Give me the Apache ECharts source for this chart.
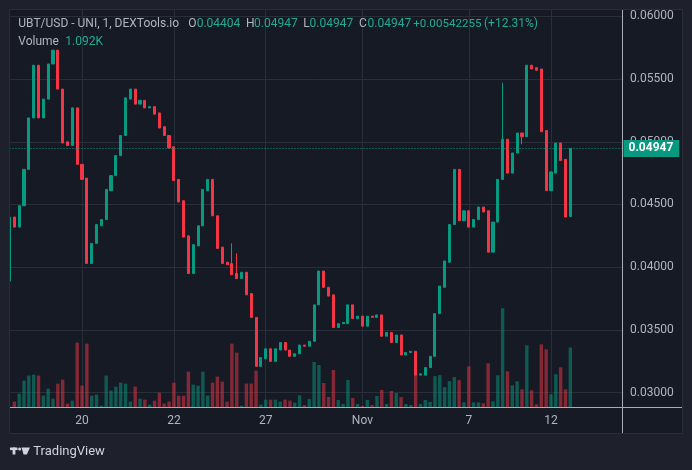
<!DOCTYPE html>
<html>
<head>
<meta charset="utf-8">
<script src="https://cdn.jsdelivr.net/npm/echarts@6/dist/echarts.min.js"></script>
<style>
html,body{margin:0;padding:0;background:#1e212b;}
#chart{width:692px;height:470px;}
</style>
</head>
<body>
<div id="chart"></div>
<script>
// ---- data ----
const opens = [
0.0389,0.0440,0.0432,0.0449,0.0478,0.0519,0.0561,0.0519,0.0534,0.0562,
0.0573,0.0542,0.0500,0.0497,0.0527,0.0482,0.0471,0.0403,0.0419,0.0433,
0.0438,0.0461,0.0473,0.0489,0.0505,0.0534,0.0542,0.0530,0.0533,0.0527,
0.0528,0.0523,0.0512,0.0505,0.0496,0.0470,0.0453,0.0425,0.0395,0.0417,
0.0433,0.0461,0.0470,0.0441,0.0416,0.0404,0.0403,0.0395,0.0391,0.0396,
0.0379,0.0360,0.0321,0.0327,0.0335,0.0325,0.0334,0.0340,0.0334,0.0329,
0.0331,0.0338,0.0337,0.0341,0.0370,0.0397,0.0384,0.0378,0.0352,0.0355,
0.0355,0.0370,0.0359,0.0361,0.0353,0.0361,0.0360,0.0362,0.0345,0.0348,
0.0340,0.0346,0.0330,0.0332,0.0333,0.0314,0.0314,0.0320,0.0329,0.0363,
0.0384,0.0404,0.0434,0.0478,0.0437,0.0445,0.0432,0.0438,0.0448,0.0445,
0.0412,0.0436,0.0470,0.0502,0.0475,0.0491,0.0507,0.0504,0.0561,0.0559,
0.0558,0.0509,0.0461,0.0475,0.0499,0.0486,0.04404];
const closes = [
0.0440,0.0432,0.0449,0.0478,0.0519,0.0561,0.0519,0.0534,0.0562,0.0573,
0.0542,0.0499,0.0497,0.0527,0.0482,0.0470,0.0403,0.0419,0.0434,0.0438,
0.0462,0.0473,0.0489,0.0505,0.0535,0.0542,0.0530,0.0533,0.0527,0.0528,
0.0522,0.0511,0.0505,0.0495,0.0469,0.0452,0.0424,0.0395,0.0418,0.0433,
0.0462,0.0470,0.0441,0.0415,0.0403,0.0402,0.0394,0.0391,0.0396,0.0378,
0.0360,0.0321,0.0328,0.0335,0.0325,0.0335,0.0340,0.0334,0.0329,0.0331,
0.0338,0.0337,0.0341,0.0370,0.0397,0.0384,0.0377,0.0352,0.0355,0.0356,
0.0370,0.0359,0.0361,0.0353,0.0361,0.0360,0.0362,0.0345,0.0348,0.0340,
0.0346,0.0330,0.0332,0.0333,0.0314,0.0315,0.0320,0.0329,0.0363,0.0385,
0.0405,0.0434,0.0478,0.0437,0.0445,0.0432,0.0438,0.0448,0.0444,0.0412,
0.0436,0.0470,0.0502,0.0475,0.0491,0.0507,0.0504,0.0561,0.0558,0.0557,
0.0508,0.0461,0.0476,0.0499,0.0485,0.0440,0.04947];
const lows = [
0.0389,0.0432,0.0432,0.0449,0.0478,0.0519,0.0519,0.0519,0.0534,0.0562,
0.0542,0.0499,0.0497,0.0497,0.0482,0.0470,0.0403,0.0403,0.0419,0.0433,
0.0438,0.0461,0.0473,0.0489,0.0505,0.0534,0.0530,0.0530,0.0527,0.0527,
0.0522,0.0511,0.0505,0.0495,0.0469,0.0452,0.0424,0.0395,0.0395,0.0417,
0.0433,0.0461,0.0441,0.0415,0.0403,0.0402,0.0394,0.0391,0.0391,0.0378,
0.0360,0.0321,0.0321,0.0327,0.0325,0.0325,0.0334,0.0334,0.0329,0.0329,
0.0331,0.0337,0.0337,0.0341,0.0370,0.0384,0.0377,0.0352,0.0352,0.0355,
0.0355,0.0359,0.0359,0.0353,0.0353,0.0360,0.0360,0.0345,0.0345,0.0340,
0.0340,0.0330,0.0330,0.0332,0.0314,0.0314,0.0314,0.0320,0.0329,0.0363,
0.0384,0.0404,0.0434,0.0437,0.0437,0.0432,0.0432,0.0438,0.0444,0.0412,
0.0412,0.0436,0.0470,0.0475,0.0475,0.0491,0.0498,0.0504,0.0558,0.0557,
0.0508,0.0461,0.0461,0.0475,0.0485,0.0440,0.04404];
const highs = [
0.0440,0.0440,0.0449,0.0478,0.0519,0.0561,0.0561,0.0534,0.0562,0.0573,
0.0573,0.0542,0.0500,0.0527,0.0527,0.0482,0.0471,0.0419,0.0434,0.0438,
0.0462,0.0473,0.0489,0.0505,0.0535,0.0542,0.0542,0.0533,0.0533,0.0528,
0.0528,0.0523,0.0512,0.0505,0.0496,0.0470,0.0453,0.0425,0.0418,0.0433,
0.0462,0.0470,0.0470,0.0441,0.0416,0.0404,0.0419,0.0411,0.0396,0.0396,
0.0379,0.0360,0.0328,0.0335,0.0335,0.0335,0.0340,0.0340,0.0334,0.0331,
0.0338,0.0338,0.0341,0.0370,0.0397,0.0397,0.0384,0.0378,0.0355,0.0356,
0.0370,0.0370,0.0361,0.0361,0.0361,0.0361,0.0362,0.0362,0.0348,0.0348,
0.0346,0.0346,0.0332,0.0333,0.0333,0.0315,0.0320,0.0329,0.0363,0.0385,
0.0405,0.0434,0.0478,0.0478,0.0445,0.0445,0.0438,0.0448,0.0448,0.0445,
0.0436,0.0470,0.0547,0.0502,0.0491,0.0507,0.0507,0.0561,0.0561,0.0559,
0.0558,0.0509,0.0476,0.0499,0.0499,0.0486,0.04947];
const volumes = [
0,104,250,488,580,598,580,213,341,159,
433,506,67,122,1183,396,1165,213,232,30,
580,305,378,451,433,104,378,159,140,49,
122,268,67,104,451,213,213,652,415,396,
652,213,451,561,470,104,1165,1000,30,433,
433,671,49,140,140,140,104,140,122,85,
220,40,150,829,774,445,189,683,134,61,
500,171,61,24,134,43,207,317,61,299,
262,186,61,43,607,61,134,98,570,588,
369,479,552,497,91,750,91,91,73,805,
110,585,1811,658,402,476,329,1134,311,55,
1152,1061,238,604,732,329,1092];
// time-axis tick labels (category index -> text)
const tickIndex = [15, 34, 53, 73, 95, 112];
const tickText  = ['20', '22', '27', 'Nov', '7', '12'];
// price-axis tick labels
const priceTicks = [0.030, 0.035, 0.040, 0.045, 0.050, 0.055, 0.060];
const lastPriceText = '0.04947';
const lastVolumeText = '1.092K';

// ---- build ----
const NCAT = 128;
const cats = [];
for (let i = 0; i < NCAT; i++) cats.push(String(i));
const UP = '#089981', DOWN = '#f23645';
const UPV = 'rgba(8,153,129,0.5)', DOWNV = 'rgba(242,54,69,0.5)';
const candleData = opens.map((o, i) => [o, closes[i], lows[i], highs[i]]);
const volData = volumes.map((v, i) => ({
  value: v,
  itemStyle: { color: closes[i] >= opens[i] ? UPV : DOWNV }
}));
const last = closes.length - 1;

const GRAY = '#b2b5be', TEAL = '#22ab94', OUTER = '#1e212b';
function txt(text, x, y, fill, size, align) {
  return { type: 'text', z: 120, style: { text: text, x: x, y: y, fill: fill,
    fontSize: size || 12, fontFamily: 'Roboto',
    verticalAlign: 'middle', textVerticalAlign: 'middle', align: align || 'left', textAlign: align || 'left' } };
}

const chart = echarts.init(document.getElementById('chart'), null, { renderer: 'canvas' });
chart.setOption({
  animation: false,
  backgroundColor: '#161a25',
  textStyle: { fontFamily: 'Roboto' },
  grid: { left: 9.5, top: 10, width: 614, height: 397.3, containLabel: false },
  xAxis: {
    type: 'category', data: cats, boundaryGap: false,
    axisLine: { show: false }, axisTick: { show: false },
    axisLabel: {
      interval: function (i) { return tickIndex.indexOf(i) >= 0; },
      formatter: function (v, i) { const k = tickIndex.indexOf(i); return k >= 0 ? tickText[k] : ''; },
      color: GRAY, fontSize: 12, margin: 8
    },
    splitLine: { show: true, interval: function (i) { return tickIndex.indexOf(i) >= 0; },
      lineStyle: { color: '#2a2e39', width: 1 } }
  },
  yAxis: [{
    type: 'value', position: 'right', min: 0.028836, max: 0.060502,
    axisLine: { show: false },
    axisTick: { show: false, customValues: priceTicks },
    axisLabel: { customValues: priceTicks, formatter: function (v) { return v.toFixed(5); },
      color: GRAY, fontSize: 12, margin: 6.5 },
    splitLine: { show: true, lineStyle: { color: '#2a2e39', width: 1 } }
  }, {
    type: 'value', min: 0, max: 7267, show: false,
    splitLine: { show: false }
  }],
  series: [{
    type: 'bar', name: 'Volume', yAxisIndex: 1, data: volData, barWidth: 3.4, z: 1,
    markLine: {
      silent: true, symbol: 'none', z: 20, precision: 5,
      lineStyle: { opacity: 0 },
      data: [{ yAxis: volumes[last] }],
      label: { show: true, position: 'end', distance: 0, formatter: lastVolumeText,
        backgroundColor: '#22ab94', color: '#ffffff', fontSize: 12, fontWeight: 'bold',
        padding: [2, 6, 1, 5], lineHeight: 14 }
    }
  }, {
    type: 'candlestick', name: 'UBT/USD', data: candleData, barWidth: 2.6, z: 3,
    itemStyle: { color: UP, color0: DOWN, borderColor: UP, borderColor0: DOWN, borderWidth: 1 },
    markLine: {
      silent: true, symbol: 'none', z: 20, precision: 6,
      data: [{ yAxis: closes[last] }],
      lineStyle: { color: UP, type: [1, 2], width: 1 },
      label: { show: true, position: 'end', distance: 0, formatter: lastPriceText,
        backgroundColor: UP, color: '#ffffff', fontSize: 12, fontWeight: 'bold',
        padding: [2, 6, 1, 5], lineHeight: 14 }
    }
  }],
  graphic: [
    { type: 'rect', z: 100, shape: { x: 0, y: 0, width: 692, height: 10 }, style: { fill: OUTER } },
    { type: 'rect', z: 100, shape: { x: 0, y: 0, width: 10, height: 470 }, style: { fill: OUTER } },
    { type: 'rect', z: 100, shape: { x: 682, y: 0, width: 10, height: 470 }, style: { fill: OUTER } },
    { type: 'rect', z: 100, shape: { x: 0, y: 433, width: 692, height: 37 }, style: { fill: OUTER } },
    { type: 'rect', z: 101, shape: { x: 9.5, y: 9.5, width: 673, height: 424 }, style: { fill: null, stroke: '#2a2e39', lineWidth: 1 } },
    { type: 'line', z: 90, shape: { x1: 622.5, y1: 10, x2: 622.5, y2: 433 }, style: { stroke: '#a9acb4', lineWidth: 1 } },
    { type: 'line', z: 90, shape: { x1: 10, y1: 407.5, x2: 682, y2: 407.5 }, style: { stroke: '#a9acb4', lineWidth: 1 } },
    txt('UBT/USD - UNI, 1, DEXTools.io', 18.3, 24.3, GRAY),
    txt('O', 188.3, 24.3, GRAY), txt('0.04404', 196.7, 24.3, TEAL),
    txt('H', 246, 24.3, GRAY), txt('0.04947', 254, 24.3, TEAL),
    txt('L', 303.3, 24.3, GRAY), txt('0.04947', 309.5, 24.3, TEAL),
    txt('C', 359, 24.3, GRAY), txt('0.04947', 367.5, 24.3, TEAL),
    txt('+0.00542255', 481.5, 24.3, TEAL, 11.6, 'right'), txt('(+12.31%)', 484, 24.3, TEAL),
    txt('Volume', 18.3, 42.3, GRAY), txt(lastVolumeText, 65.3, 42.3, TEAL),
    { type: 'rect', z: 120, shape: { x: 10, y: 447.5, width: 7.5, height: 2.6 }, style: { fill: '#d1d4dc' } },
    { type: 'rect', z: 120, shape: { x: 12.6, y: 447.5, width: 2.8, height: 7 }, style: { fill: '#d1d4dc' } },
    { type: 'circle', z: 120, shape: { cx: 19.6, cy: 449, r: 1.5 }, style: { fill: '#d1d4dc' } },
    { type: 'polygon', z: 120, shape: { points: [[21.5, 447.5], [30, 447.5], [26.8, 454.5], [23.6, 454.5]] }, style: { fill: '#d1d4dc' } },
    txt('TradingView', 33.3, 451.5, '#d1d4dc', 13)
  ]
});
</script>
</body>
</html>
